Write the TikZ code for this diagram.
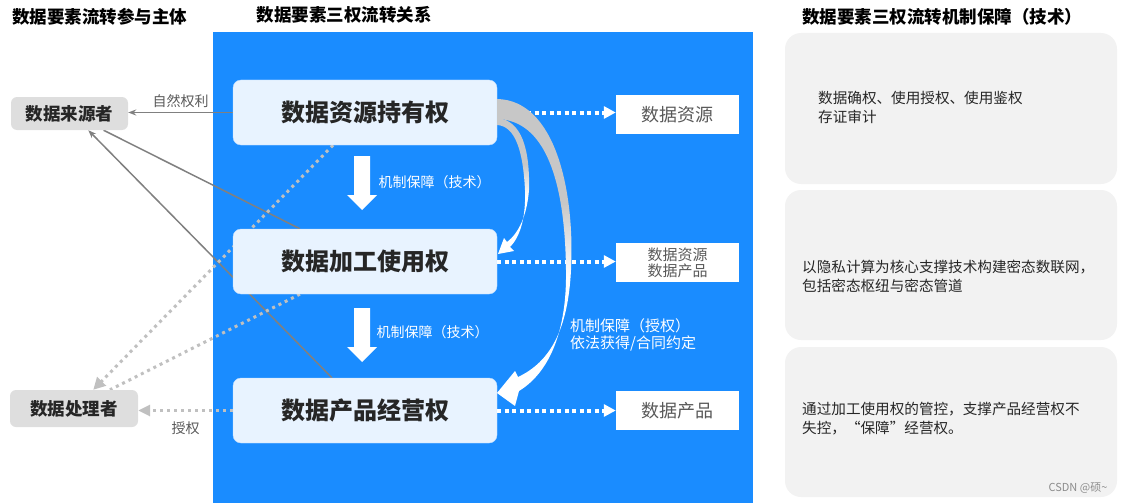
\documentclass[tikz,border=0pt]{standalone}
\usepackage{fontspec}
\setmainfont{Noto Sans CJK SC}
\usepackage{xcolor}
\usetikzlibrary{arrows.meta, calc, backgrounds}

\definecolor{flowblue}{HTML}{1A8CFF}
\definecolor{rightfill}{HTML}{E8F3FF}
\definecolor{partyfill}{HTML}{DEDEDE}
\definecolor{panelfill}{HTML}{F2F2F2}
\definecolor{dotgray}{HTML}{C0C0C0}
\definecolor{linegray}{HTML}{808080}
\definecolor{textdark}{HTML}{262626}
\definecolor{textgray}{HTML}{595959}

\pgfdeclareverticalshading{ribbon}{100bp}{color(0bp)=(white); color(46bp)=(white); color(58bp)=(black!22); color(100bp)=(black!22)}

\tikzset{
  rightbox/.style={fill=rightfill, draw=rightfill!80!flowblue, rounded corners=8pt, minimum width=264pt, minimum height=65pt, text=textdark, font=\bfseries\fontsize{24}{28}\selectfont},
  partybox/.style={fill=partyfill, rounded corners=6pt, text=textdark, font=\bfseries\fontsize{17.5}{20}\selectfont},
  resbox/.style={fill=white, minimum width=123pt, minimum height=39pt, text=textgray, align=center},
  panelbox/.style={fill=panelfill, rounded corners=16pt, minimum width=332pt},
  paneltext/.style={anchor=west, align=left, text=textdark, inner sep=0pt, font=\fontsize{14.6}{19}\selectfont},
  titletext/.style={text=black, font=\bfseries\fontsize{17.5}{20}\selectfont},
  smalllabel/.style={font=\fontsize{14}{17}\selectfont},
  whitedot/.style={white, line width=4pt, dash pattern=on 4pt off 3.5pt, -{Triangle[length=12pt,width=12pt]}},
  graydot/.style={dotgray, line width=3pt, dash pattern=on 3pt off 4pt},
  grayline/.style={linegray, line width=1.5pt}
}

\begin{document}
\begin{tikzpicture}[x=1pt, y=-1pt]
  \useasboundingbox (0,0) rectangle (1127,503);
  % blue field
  \begin{scope}[on background layer]
    \fill[flowblue] (213,32) rectangle (753,503);
  \end{scope}

  % titles
  \node[titletext] (tparty) at (100,17) {数据要素流转参与主体};
  \node[titletext] (tflow) at (344,15) {数据要素三权流转关系};
  \node[titletext] (tguard) at (942,17) {数据要素三权流转机制保障（技术）};

  % three rights
  \node[rightbox] (hold) at (365,112.5) {数据资源持有权};
  \node[rightbox] (use) at (365,261.5) {数据加工使用权};
  \node[rightbox] (prod) at (365,410.5) {数据产品经营权};

  % what they cover
  \node[resbox, font=\fontsize{18}{20}\selectfont] (res1) at (677.5,114.5) {数据资源};
  \node[resbox, font=\fontsize{15}{17}\selectfont, inner sep=0pt] (res2) at (677.5,262.5) {数据资源\\[-1pt]数据产品};
  \node[resbox, font=\fontsize{18}{20}\selectfont] (res3) at (677.5,410.5) {数据产品};

  % parties
  \node[partybox, minimum width=117pt, minimum height=33pt] (src) at (69.5,113.5) {数据来源者};
  \node[partybox, minimum width=128pt, minimum height=37pt] (proc) at (74,408.5) {数据处理者};

  % guarantee panels
  \node[panelbox, minimum height=151pt] (pan1) at (951,108.5) {};
  \node[panelbox, minimum height=150pt] (pan2) at (951,265) {};
  \node[panelbox, minimum height=150pt] (pan3) at (951,422) {};
  \node[paneltext] (txt1) at (818,107.5) {数据确权、使用授权、使用鉴权\\存证审计};
  \node[paneltext] (txt2) at (802,276) {以隐私计算为核心支撑技术构建密态数联网，\\包括密态枢纽与密态管道};
  \node[paneltext] (txt3) at (802,419) {通过加工使用权的管控，支撑产品经营权不\\失控，“保障”经营权。};
  \node[text=black!45, font=\fontsize{11}{13}\selectfont] (mark) at (1078,488) {CSDN @硕\textasciitilde};

  % links to the parties
  \begin{scope}[on background layer]
    \draw[grayline, -{Stealth[length=8pt,width=6pt]}] (hold.west) -- (hold.west -| src.east)
      node[midway, above=1pt, text=textgray, smalllabel] (lnat) {自然权利};
    \draw[grayline, -{Stealth[length=8pt,width=6pt]}] ($(prod.north west)!0.375!(prod.north east)$) -- ($(src.south west)!0.66!(src.south east)$);
    \draw[grayline] ($(use.north west)!0.254!(use.north east)$) -- ($(src.south west)!0.79!(src.south east)$);
    \draw[graydot, -{Triangle[length=12pt,width=12pt]}] ($(hold.south west)!0.379!(hold.south east)$) -- ($(proc.north west)!0.65!(proc.north east)$);
    \draw[graydot] ($(use.south west)!0.254!(use.south east)$) -- ($(proc.north west)!0.78!(proc.north east)$);
    \draw[graydot, -{Triangle[length=12pt,width=11pt]}] (prod.west) -- (prod.west -| proc.east)
      node[midway, below=6pt, text=textgray, smalllabel] (lauth) {授权};
  \end{scope}

  % rights to resources
  \draw[whitedot] (hold.east) -- (hold.east -| res1.west);
  \draw[whitedot] (use.east) -- (use.east -| res2.west);
  \draw[whitedot] (prod.east) -- (prod.east -| res3.west);

  % technical guarantee arrows
  \fill[white] (354,156) -- (370,156) -- (370,195) -- (377,195) -- (362,210) -- (347,195) -- (354,195) -- cycle;
  \fill[white] (354,308) -- (370,308) -- (370,347) -- (377,347) -- (362,362) -- (347,347) -- (354,347) -- cycle;
  \node[white, smalllabel, anchor=west] (tech1) at (375,182) {机制保障（技术）};
  \node[white, smalllabel, anchor=west] (tech2) at (373,332) {机制保障（技术）};

  % authorisation ribbons
  \shade[shading=ribbon] (497,118) .. controls (522,120) and (530,150) .. (529,190)
    .. controls (527,215) and (519,233) .. (507,242) -- (504,238) -- (498,254) -- (514,251) -- (510,247)
    .. controls (521,236) and (526,215) .. (525,190)
    .. controls (523,150) and (515,126) .. (497,125) -- cycle;
  \shade[shading=ribbon] (497,99) .. controls (555,100) and (575,190) .. (571,270)
    .. controls (568,330) and (550,362) .. (518,377) -- (515,371) -- (497,393) -- (515,406) -- (519,391)
    .. controls (550,372) and (567,330) .. (566,270)
    .. controls (565,180) and (545,120) .. (497,119) -- cycle;
  \node[white, anchor=west, align=left, inner sep=0pt, font=\fontsize{15}{17}\selectfont] (lawful) at (570,334.5) {机制保障（授权）\\依法获得/合同约定};
\end{tikzpicture}
\end{document}
